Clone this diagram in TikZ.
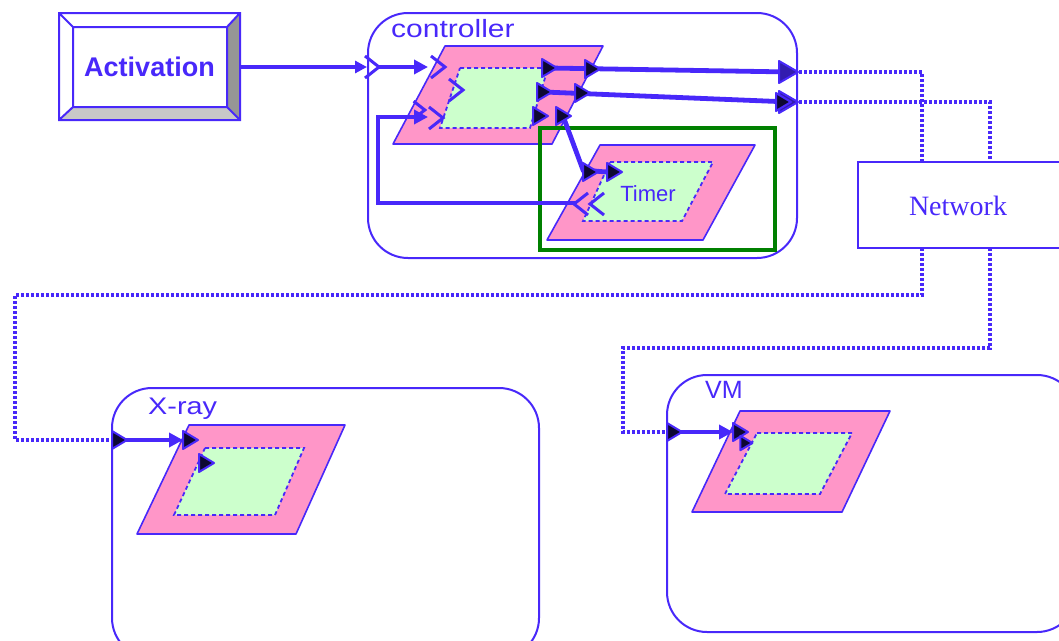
\documentclass[tikz,border=0pt]{standalone}
\usepackage{fontspec}
\setmainfont{Liberation Sans}
\newfontfamily\netfont{Liberation Serif}
\usetikzlibrary{arrows.meta}

\definecolor{ublue}{RGB}{72,40,250}
\definecolor{capsulefill}{RGB}{255,150,200}
\definecolor{partfill}{RGB}{204,255,204}
\definecolor{framegreen}{RGB}{0,128,0}
\definecolor{bevdark}{RGB}{150,150,150}
\definecolor{bevlight}{RGB}{200,200,200}

\tikzset{
  actorbox/.style={draw=ublue, line width=2pt, rounded corners=40pt, inner sep=0pt},
  capsule/.style={fill=capsulefill, draw=ublue, line width=1.6pt, line join=round},
  partbox/.style={fill=partfill, draw=ublue, line width=1.8pt, dash pattern=on 4pt off 3pt},
  wire/.style={draw=ublue, line width=4.8pt, -{Triangle[length=14pt,width=14pt]}},
  thinwire/.style={draw=ublue, line width=3.4pt, -{Triangle[length=12pt,width=12pt]}},
  plainwire/.style={draw=ublue, line width=4.8pt},
  netlink/.style={draw=ublue, line width=3.4pt, dash pattern=on 3pt off 2pt},
  lbl/.style={text=ublue, inner sep=0pt},
  relay/.pic={\filldraw[draw=ublue, fill=black!80!ublue, line width=2pt, line join=round]
              (-7,-9) -- (8,0) -- (-7,9) -- cycle;},
  bigrelay/.pic={\filldraw[draw=ublue, fill=ublue!70!black, line width=2pt, line join=round]
              (-11,-11) -- (8,0) -- (-11,11) -- cycle;},
  chevron/.pic={\draw[ublue, line width=3pt, line join=miter]
              (-8,-11) -- (6,0) -- (-8,11);},
}

\begin{document}
\begin{tikzpicture}[x=1pt, y=-1pt]
\useasboundingbox (0,0) rectangle (1059,640);
\clip (0,0) rectangle (1059,640);

% ---------- Activation button (bevelled) ----------
\fill[white] (59,13) rectangle (240,120);
\fill[bevdark] (240,13) -- (240,120) -- (227,107) -- (227,27) -- cycle;
\fill[bevlight] (59,120) -- (240,120) -- (227,107) -- (73,107) -- cycle;
\draw[ublue, line width=2pt]
  (59,13) rectangle (240,120) (73,27) rectangle (227,107)
  (59,13) -- (73,27) (240,13) -- (227,27)
  (59,120) -- (73,107) (240,120) -- (227,107);
\node[lbl, minimum width=181pt, minimum height=107pt,
      font=\bfseries\fontsize{27}{27}\selectfont] (act) at (149.5,67) {Activation};

% ---------- controller capsule ----------
\node[actorbox, minimum width=429pt, minimum height=245pt] (ctrl) at (582.5,135.5) {};
\node[lbl, anchor=north west, font=\fontsize{25}{25}\selectfont, xscale=1.2] (ctrlname) at (391,19) {controller};

% upper part
\draw[capsule] (445,46) -- (603,46) -- (552,144) -- (393,144) -- cycle;
\draw[partbox] (460,68) -- (548,68) -- (530,128) -- (440,128) -- cycle;

% timer part inside its frame
\draw[framegreen, line width=4.5pt] (540,128) rectangle (775,250);
\draw[capsule] (600,145) -- (755,145) -- (703,240) -- (547,240) -- cycle;
\draw[partbox] (610,162) -- (713,162) -- (682,221) -- (583,221) -- cycle;
\node[lbl, font=\fontsize{22}{22}\selectfont] (timer) at (648,194) {Timer};

% ports and wiring of the controller
\coordinate (ctrlIn) at (367,67);
\coordinate (upIn) at (428,67);
\coordinate (fbIn) at (428,117);
\coordinate (outA) at (549,68);
\coordinate (outB) at (544,92);
\coordinate (outC) at (540,116);
\coordinate (outD) at (563,116);
\coordinate (borderA) at (790,72);
\coordinate (borderB) at (790,102);
\coordinate (tBend) at (583,170);
\coordinate (tIn) at (606,172);
\coordinate (tOut) at (575,203);
\coordinate (loopCorner) at (378,117);

\draw[thinwire] (act.east) -- (ctrlIn);
\path (373,67) pic {chevron};
\draw[wire] (ctrlIn) ++(10,0) -- (upIn);
\path (439,67) pic {chevron} (457,90) pic {chevron};

\draw[plainwire] (outA) -- (borderA);
\draw[plainwire] (outB) -- (borderB);
\draw[plainwire] (outD) -- (tBend) -- (tIn);
\draw[wire] (tOut) -| (loopCorner) -- (fbIn);
\path (437,118) pic {chevron} (420,110) pic[scale=0.8] {chevron};
\path (596,204) pic[rotate=180] {chevron} (580,204) pic[rotate=180] {chevron};

\path (outA) pic {relay} (outB) pic {relay} (outC) pic {relay} (outD) pic {relay}
      (592,69) pic {relay} (582,93) pic {relay}
      (590,172) pic {relay} (614,172) pic {relay};
\path (borderA) pic {bigrelay} (borderB) pic {bigrelay} (783,102) pic {relay};

% ---------- Network ----------
\node[draw=ublue, line width=2pt, minimum width=212pt, minimum height=86pt, inner sep=0pt]
  (net) at (964,205) {};
\node[text=ublue, font=\netfont\fontsize{28}{28}\selectfont] (netname) at (958,206) {Network};

\coordinate (ctrlOutA) at (799,72);
\coordinate (ctrlOutB) at (799,102);
\coordinate (nA) at (922,162);
\coordinate (nB) at (990,162);
\coordinate (nC) at (922,248);
\coordinate (nD) at (990,248);
\coordinate (bendX) at (15,295);
\coordinate (bendV) at (623,348);
\coordinate (xIn) at (113,440);
\coordinate (vIn) at (668,432);

\draw[netlink] (ctrlOutA) -| (nA);
\draw[netlink] (ctrlOutB) -| (nB);
\draw[netlink] (nC) |- (bendX) |- (xIn);
\draw[netlink] (nD) |- (bendV) |- (vIn);

% ---------- X-ray capsule ----------
\node[actorbox, minimum width=427pt, minimum height=270pt] (xray) at (325.5,523) {};
\node[lbl, anchor=north west, font=\fontsize{24}{24}\selectfont, xscale=1.2] (xrayname) at (148,398) {X-ray};
\draw[capsule] (189,425) -- (345,425) -- (296,534) -- (137,534) -- cycle;
\draw[partbox] (205,448) -- (304,448) -- (275,515) -- (174,515) -- cycle;
\coordinate (xPort) at (119,440);
\coordinate (xPart) at (183,440);
\draw[wire] (xPort) -- (xPart);
\path (xPort) pic {relay} (190,440) pic {relay} (206,463) pic {relay};

% ---------- VM capsule ----------
\node[actorbox, minimum width=410pt, minimum height=257pt] (vm) at (872,503.5) {};
\node[lbl, anchor=north west, font=\fontsize{25}{25}\selectfont] (vmname) at (705,381) {VM};
\draw[capsule] (740,411) -- (890,411) -- (842,512) -- (692,512) -- cycle;
\draw[partbox] (757,433) -- (852,433) -- (820,494) -- (725,494) -- cycle;
\coordinate (vPort) at (674,432);
\coordinate (vPart) at (733,432);
\draw[wire] (vPort) -- (vPart);
\path (vPort) pic {relay} (740,432) pic {relay} (746,443) pic[scale=0.8] {relay};

\end{tikzpicture}
\end{document}
